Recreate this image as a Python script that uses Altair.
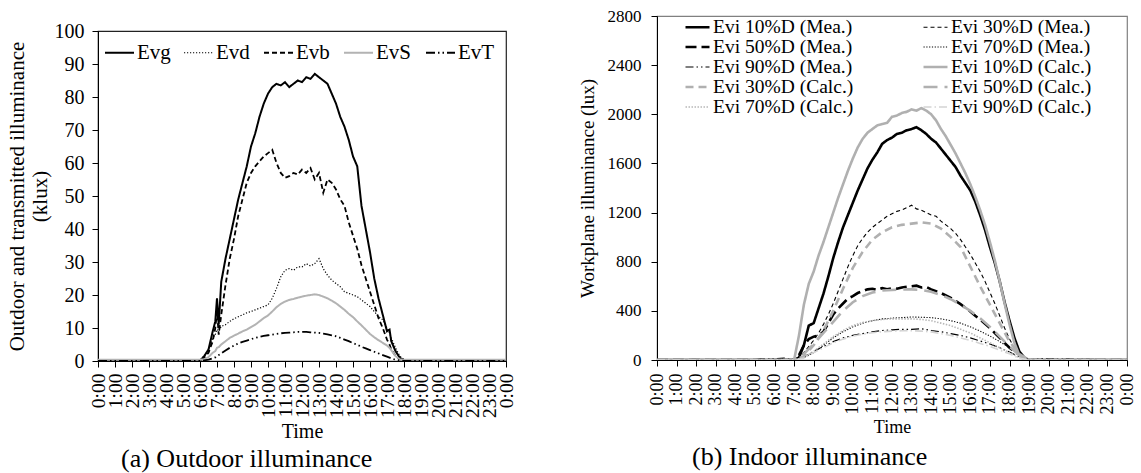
import altair as alt
import pandas as pd

FONT = "Liberation Serif"

# ---------------- Panel (a): outdoor / transmitted illuminance (klux) ----------------
T_A = [0, 6.0, 6.25, 6.5, 6.75, 6.9, 7.0, 7.1, 7.25, 7.5, 7.75, 8.0, 8.25, 8.5, 8.75, 9.0, 9.25, 9.5, 9.75,
       10.0, 10.25, 10.5, 10.75, 11.0, 11.25, 11.5, 11.75, 12.0, 12.25, 12.5, 12.75, 13.0, 13.25, 13.5, 13.75,
       14.0, 14.25, 14.5, 14.75, 15.0, 15.25, 15.5, 15.75, 16.0, 16.25, 16.5, 16.75, 17.0, 17.15, 17.25, 17.5,
       17.75, 18.0, 18.25, 24]

EVG = [0, 0, 1.5, 3.5, 9, 12, 19, 11, 24, 31, 37, 43, 49, 54, 59, 65, 69, 74, 78,
       81, 83, 84, 83.5, 84.5, 83, 84, 85, 84.5, 86, 85.5, 87, 86, 85, 84, 81,
       78, 74, 71, 67, 62, 59, 47, 40, 33, 25, 19, 14, 9, 9.5, 6, 3,
       1, 0.3, 0.2, 0.2]
EVD = [0.4, 0.4, 1.5, 3, 7, 8, 9.6, 9, 10.5, 11, 12, 12.8, 13.4, 14, 14.6, 15, 15.5, 16, 16.5,
       17, 19, 22, 25.5, 27.5, 28, 27.5, 28.5, 28.5, 29.5, 28.8, 29.5, 31, 28, 26, 24.5,
       23.5, 22.5, 21, 20.5, 20, 19.5, 18.5, 17.5, 16.5, 15, 13.5, 12.5, 10, 8.5, 7, 4,
       1.5, 0.4, 0.4, 0.4]
EVB = [0, 0, 1, 2.5, 6, 10, 15, 8, 14, 23, 31, 37, 44, 49, 54, 57, 59, 60.5, 62,
       63, 64, 60, 57, 55.5, 56, 57, 56.5, 58, 57, 58.5, 55, 57, 51, 55, 54,
       52, 49, 47, 42, 38, 34, 29, 25, 21, 17, 13, 10, 6.5, 5, 3.5, 1.5,
       0.5, 0.3, 0, 0]
EVS = [0.4, 0.4, 0.5, 1.2, 2.5, 3, 4, 4.2, 5, 6, 7, 7.7, 8.3, 9, 9.5, 10.3, 11, 12, 13,
       13.8, 15, 16.3, 17.3, 18, 18.5, 18.8, 19.2, 19.5, 19.8, 20, 20.2, 20, 19.5, 19, 18.3,
       17.5, 16.5, 15.5, 14.3, 13.3, 12, 10.8, 9.5, 8.2, 7.2, 6.3, 5.5, 4.7, 4, 3.3, 1.5,
       0.5, 0.4, 0.4, 0.4]
EVT = [0, 0, 0.2, 0.4, 0.8, 1.1, 1.5, 1.8, 2.3, 3.2, 4, 4.7, 5.3, 5.8, 6.2, 6.6, 7, 7.3, 7.6,
       7.8, 8.0, 8.2, 8.4, 8.5, 8.6, 8.7, 8.8, 8.8, 8.8, 8.7, 8.6, 8.5, 8.3, 8.1, 7.8,
       7.5, 7.0, 6.5, 6.0, 5.4, 4.9, 4.3, 3.8, 3.3, 2.8, 2.3, 1.8, 1.3, 1.0, 0.8, 0.4,
       0.2, 0, 0, 0]

NAMES_A = ["Evg", "Evd", "Evb", "EvS", "EvT"]
COLORS_A = ["#000000", "#000000", "#000000", "#b3b3b3", "#000000"]
DASH_A = [[1, 0], [1.2, 1.8], [5, 3], [1, 0], [9, 3, 1.5, 3, 1.5, 3]]
WIDTH_A = [2.0, 1.2, 1.8, 2.0, 1.8]

# ---------------- Panel (b): indoor workplane illuminance (lux) ----------------
T_B15 = [0, 7.0, 7.25, 7.5, 7.75, 8.0, 8.25, 8.5, 8.75, 9.0, 9.25, 9.5, 9.75, 10.0, 10.25, 10.5, 10.75,
         11.0, 11.25, 11.5, 11.75, 12.0, 12.25, 12.5, 12.75, 13.0, 13.25, 13.5, 13.75, 14.0, 14.25, 14.5,
         14.75, 15.0, 15.25, 15.5, 15.75, 16.0, 16.25, 16.5, 16.75, 17.0, 17.25, 17.5, 17.75, 18.0, 18.25,
         18.5, 18.75, 19.0, 24]
T_B30 = [0, 5.0, 5.5, 6.0, 6.5, 7.0, 7.5, 8.0, 8.5, 9.0, 9.5, 10.0, 10.5, 11.0, 11.5, 12.0, 12.5, 13.0,
         13.5, 14.0, 14.5, 15.0, 15.5, 16.0, 16.5, 17.0, 17.5, 18.0, 18.5, 19.0, 19.5, 24]

M10 = [0, 0, 20, 120, 280, 300, 420, 540, 680, 830, 960, 1080, 1180, 1280, 1380, 1470, 1560,
       1630, 1690, 1760, 1790, 1810, 1840, 1850, 1870, 1880, 1895, 1870, 1840, 1800, 1770, 1720,
       1670, 1620, 1570, 1500, 1440, 1380, 1290, 1180, 1060, 920, 790, 640, 470, 320, 180,
       70, 20, 0, 0]
C10 = [0, 0, 200, 450, 620, 720, 850, 960, 1080, 1200, 1320, 1430, 1540, 1640, 1730, 1800, 1850,
       1880, 1910, 1920, 1930, 1980, 1990, 2010, 2020, 2040, 2030, 2050, 2030, 2000, 1950, 1880,
       1820, 1750, 1680, 1600, 1520, 1430, 1330, 1220, 1100, 960, 810, 640, 460, 290, 140,
       40, 0, 0, 0]
M30 = [0, 0, 20, 60, 110, 160, 220, 290, 370, 460, 560, 660, 760, 850, 930, 990, 1040,
       1080, 1110, 1140, 1170, 1190, 1210, 1220, 1240, 1260, 1230, 1220, 1200, 1180, 1170, 1130,
       1100, 1070, 1030, 980, 920, 860, 790, 720, 640, 550, 460, 360, 260, 170, 100,
       50, 10, 0, 0]
M50 = [0, 0, 40, 120, 170, 190, 200, 230, 300, 370, 420, 460, 500, 520, 545, 560, 575,
       580, 570, 585, 575, 585, 580, 590, 595, 600, 605, 590, 595, 575, 560, 545,
       525, 505, 480, 455, 425, 395, 360, 330, 295, 260, 220, 180, 140, 100, 70,
       45, 15, 0, 0]
C30 = [0, 0, 0, 0, 0, 0, 30, 120, 240, 400, 580, 750, 880, 980, 1040, 1080, 1100, 1110,
       1120, 1110, 1070, 1000, 920, 760, 600, 450, 300, 150, 50, 0, 0, 0]
C50 = [0, 0, 0, 0, 0, 0, 50, 130, 220, 310, 400, 470, 520, 550, 565, 570, 575, 575,
       570, 555, 530, 495, 450, 400, 340, 270, 190, 110, 40, 0, 0, 0]
M70 = [0, 0, 0, 0, 0, 0, 20, 60, 120, 180, 230, 270, 300, 320, 335, 340, 345, 350,
       348, 345, 335, 320, 300, 270, 235, 195, 150, 100, 40, 0, 0, 0]
C70 = [0, 0, 0, 0, 0, 0, 20, 70, 130, 190, 240, 280, 305, 320, 330, 335, 335, 335,
       330, 320, 300, 280, 250, 220, 180, 140, 100, 60, 20, 0, 0, 0]
M90 = [0, 0, 12, 10, 15, 5, 20, 70, 110, 150, 180, 200, 215, 230, 240, 245, 250, 250,
       255, 240, 230, 215, 200, 180, 155, 130, 100, 65, 25, 0, 12, 0]
C90 = [0, 0, 0, 0, 0, 0, 15, 60, 100, 140, 170, 195, 210, 222, 230, 235, 238, 238,
       235, 228, 215, 200, 180, 160, 135, 110, 80, 50, 15, 0, 0, 0]

NAMES_B = ["Evi 10%D (Mea.)", "Evi 30%D (Mea.)", "Evi 50%D (Mea.)", "Evi 70%D (Mea.)", "Evi 90%D (Mea.)",
           "Evi 10%D (Calc.)", "Evi 30%D (Calc.)", "Evi 50%D (Calc.)", "Evi 70%D (Calc.)", "Evi 90%D (Calc.)"]
COLORS_B = ["#000000", "#000000", "#000000", "#000000", "#000000",
            "#b0b0b0", "#b0b0b0", "#b0b0b0", "#b8b8b8", "#d4d4d4"]
DASH_B = [[1, 0], [4, 3], [11, 5], [1.2, 1.6], [8, 3, 1.5, 3, 1.5, 3],
          [1, 0], [8, 5], [14, 7], [1.5, 1.5], [8, 3, 1.5, 3]]
WIDTH_B = [2.6, 1.1, 2.6, 1.1, 1.2, 2.6, 2.6, 2.6, 1.6, 1.6]

# invisible row used only to push panel (a) down
SPACER = [0]


def long_df(items):
    rows = []
    for name, times, vals in items:
        assert len(times) == len(vals), name
        rows += [{"t": t, "v": v, "s": name} for t, v in zip(times, vals)]
    return pd.DataFrame(rows)


df_a = long_df([("Evg", T_A, EVG), ("Evd", T_A, EVD), ("Evb", T_A, EVB), ("EvS", T_A, EVS), ("EvT", T_A, EVT)])
df_b = long_df([
    ("Evi 10%D (Mea.)", T_B15, M10), ("Evi 30%D (Mea.)", T_B15, M30), ("Evi 50%D (Mea.)", T_B15, M50),
    ("Evi 70%D (Mea.)", T_B30, M70), ("Evi 90%D (Mea.)", T_B30, M90),
    ("Evi 10%D (Calc.)", T_B15, C10), ("Evi 30%D (Calc.)", T_B30, C30), ("Evi 50%D (Calc.)", T_B30, C50),
    ("Evi 70%D (Calc.)", T_B30, C70), ("Evi 90%D (Calc.)", T_B30, C90),
])

HOURS = list(range(25))
HOUR_LABEL = "(datum.value % 24) + ':00'"


def x_axis(fs, title_fs, pad):
    return alt.Axis(values=HOURS, labelExpr=HOUR_LABEL, labelAngle=270, labelOverlap=False,
                    labelFlush=False, labelBound=False, title="Time", grid=False,
                    tickSize=6, labelPadding=pad, labelFont=FONT, labelFontSize=fs,
                    titleFont=FONT, titleFontSize=title_fs, titleFontWeight="normal",
                    titlePadding=4, domainColor="black", tickColor="black",
                    labelColor="black", titleColor="black")


legend_a = alt.Legend(title=None, orient="none", legendX=6, legendY=21, direction="horizontal",
                      columns=5, symbolType="stroke", symbolSize=841, labelFont=FONT,
                      labelFontSize=21, labelColor="black", labelOffset=2, columnPadding=10,
                      padding=0, labelLimit=0)

left_inner = alt.Chart(df_a).mark_line(clip=True).encode(
    x=alt.X("t:Q", scale=alt.Scale(domain=[0, 24], nice=False), axis=x_axis(19.5, 20, 6)),
    y=alt.Y("v:Q", scale=alt.Scale(domain=[0, 100], nice=False),
            axis=alt.Axis(values=list(range(0, 101, 10)), grid=False, tickSize=6, labelPadding=8,
                          labelFont=FONT, labelFontSize=20, labelColor="black",
                          title=["Outdoor and transmitted illuminance", "(klux)"],
                          titleFont=FONT, titleFontSize=21, titleFontWeight="normal",
                          titleLineHeight=23, titlePadding=4, titleColor="black",
                          domainColor="black", tickColor="black")),
    color=alt.Color("s:N", scale=alt.Scale(domain=NAMES_A, range=COLORS_A), legend=legend_a),
    strokeDash=alt.StrokeDash("s:N", scale=alt.Scale(domain=NAMES_A, range=DASH_A), legend=legend_a),
    strokeWidth=alt.StrokeWidth("s:N", scale=alt.Scale(type="ordinal", domain=NAMES_A, range=WIDTH_A),
                                legend=legend_a),
).properties(
    width=408, height=330,
    view=alt.ViewBackground(stroke="#222222", strokeWidth=1.2),
    title=alt.TitleParams("(a) Outdoor illuminance", orient="bottom", anchor="start", frame="group",
                          dx=23, offset=5, font=FONT, fontSize=26, fontWeight="normal", color="black"),
)

spacer = alt.Chart(pd.DataFrame({"v": SPACER})).mark_point(opacity=0).encode(
    x=alt.X("v:Q", axis=None), y=alt.Y("v:Q", axis=None)
).properties(width=408, height=1, view=alt.ViewBackground(stroke="transparent"))

left = alt.vconcat(spacer, left_inner, spacing=0).resolve_scale(x="independent", y="independent")

legend_b = alt.Legend(title=None, orient="none", legendX=27, legendY=3, direction="horizontal",
                      columns=2, symbolType="stroke", symbolSize=576, labelFont=FONT,
                      labelFontSize=19.5, labelColor="black", labelOffset=2, columnPadding=68,
                      rowPadding=0, clipHeight=16, padding=0, labelLimit=0)

right = alt.Chart(df_b).mark_line(clip=True).encode(
    x=alt.X("t:Q", scale=alt.Scale(domain=[0, 24], nice=False), axis=x_axis(18, 18, 7)),
    y=alt.Y("v:Q", scale=alt.Scale(domain=[0, 2800], nice=False),
            axis=alt.Axis(values=list(range(0, 2801, 400)), format="d", grid=False, tickSize=6,
                          labelPadding=10, labelFont=FONT, labelFontSize=17, labelColor="black",
                          title="Workplane illuminance (lux)",
                          titleFont=FONT, titleFontSize=19, titleFontWeight="normal",
                          titlePadding=10, titleColor="black",
                          domainColor="black", tickColor="black")),
    color=alt.Color("s:N", scale=alt.Scale(domain=NAMES_B, range=COLORS_B), legend=legend_b),
    strokeDash=alt.StrokeDash("s:N", scale=alt.Scale(domain=NAMES_B, range=DASH_B), legend=legend_b),
    strokeWidth=alt.StrokeWidth("s:N", scale=alt.Scale(type="ordinal", domain=NAMES_B, range=WIDTH_B),
                                legend=legend_b),
).properties(
    width=470, height=344,
    view=alt.ViewBackground(stroke="#808080", strokeWidth=1.2),
    title=alt.TitleParams("(b) Indoor illuminance", orient="bottom", anchor="start", frame="group",
                          dx=35, offset=8, font=FONT, fontSize=26, fontWeight="normal", color="black"),
)

chart = alt.concat(left, right, columns=2, spacing=60).resolve_scale(
    color="independent", strokeDash="independent", strokeWidth="independent", x="independent", y="independent"
).properties(
    padding={"left": 5, "top": 6, "right": 0, "bottom": 0},
    background="white",
)

chart.save("out.html", embed_options={"renderer": "svg", "actions": False})
